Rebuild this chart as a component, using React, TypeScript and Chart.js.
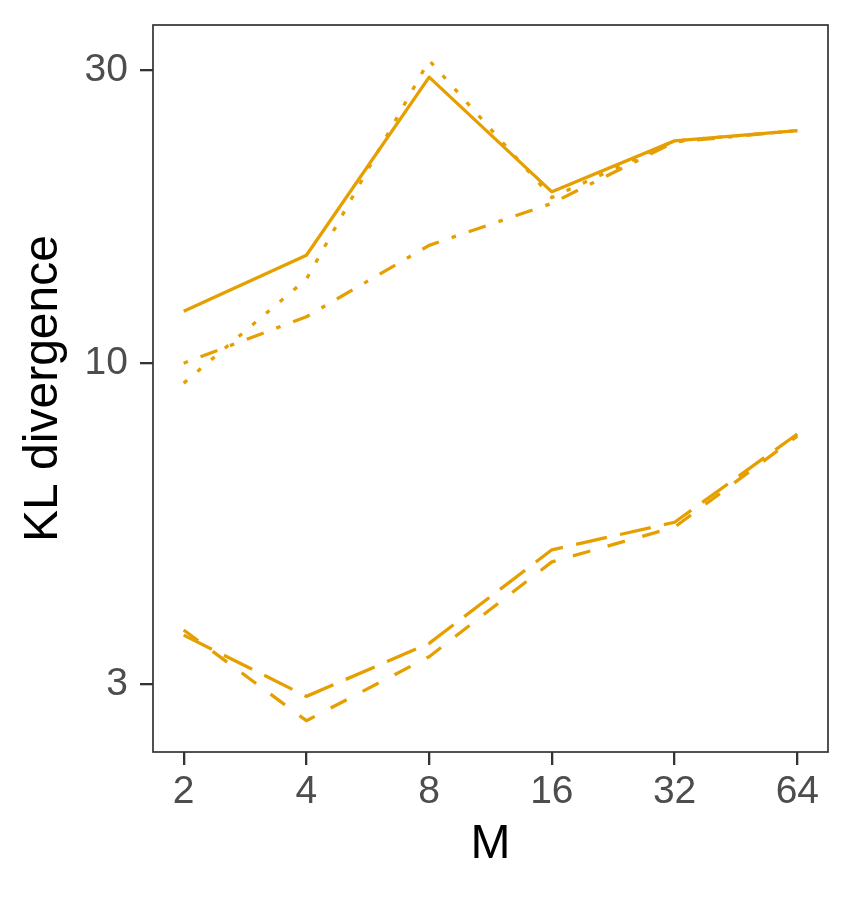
import { useEffect, useRef } from 'react';
import { Chart, ChartConfiguration, Plugin } from 'chart.js/auto';

const mValues = [2, 4, 8, 16, 32, 64];
const yTicks = [3, 10, 30];

// one series per line type
const solidSeries = [12.15, 14.98, 29.2, 19.0, 23.0, 23.9];
const dottedSeries = [9.28, 13.7, 31.1, 18.6, 23.0, 23.9];
const dotdashSeries = [10.0, 11.9, 15.55, 18.2, 22.9, 23.9];
const longdashSeries = [3.61, 2.87, 3.5, 4.97, 5.51, 7.67];
const dashedSeries = [3.68, 2.62, 3.33, 4.75, 5.41, 7.61];

const ORANGE = '#E69F00';
const FONT = '"Liberation Sans", Arial, sans-serif';

const panelBorder: Plugin<'line'> = {
  id: 'panelBorder',
  afterDraw(chart) {
    const { ctx, chartArea } = chart;
    ctx.save();
    ctx.strokeStyle = '#333333';
    ctx.lineWidth = 1.7;
    ctx.strokeRect(chartArea.left, chartArea.top, chartArea.right - chartArea.left, chartArea.bottom - chartArea.top);
    ctx.restore();
  },
};

function toPoints(values: number[]) {
  return values.map((v, i) => ({ x: mValues[i], y: v }));
}

export default function App() {
  const chartRef = useRef<HTMLCanvasElement>(null);
  const chartInstance = useRef<Chart | null>(null);

  useEffect(() => {
    document.body.style.margin = '0';
    if (!chartRef.current) return;
    if (chartInstance.current) {
      chartInstance.current.destroy();
    }
    const ctx = chartRef.current.getContext('2d');
    if (!ctx) return;

    const line = (label: string, values: number[], dash: number[]) => ({
      label,
      data: toPoints(values),
      borderColor: ORANGE,
      backgroundColor: ORANGE,
      borderWidth: 3.3,
      borderDash: dash,
      borderCapStyle: 'butt' as const,
      borderJoinStyle: 'round' as const,
      pointRadius: 0,
      tension: 0,
      fill: false,
    });

    const config: ChartConfiguration<'line'> = {
      type: 'line',
      data: {
        datasets: [
          line('solid', solidSeries, []),
          line('dotted', dottedSeries, [4.5, 13.5]),
          line('dotdash', dotdashSeries, [4.5, 13.5, 18, 13.5]),
          line('longdash', longdashSeries, [31.5, 13.5]),
          line('dashed', dashedSeries, [18, 18]),
        ],
      },
      options: {
        responsive: false,
        animation: false,
        layout: { padding: { left: 0, top: 25, right: 27, bottom: 0 } },
        plugins: {
          legend: { display: false },
          tooltip: { enabled: false },
          title: { display: false },
        },
        scales: {
          x: {
            type: 'logarithmic',
            min: Math.pow(2, 0.75),
            max: Math.pow(2, 6.25),
            afterBuildTicks: (scale) => {
              scale.ticks = mValues.map((v) => ({ value: v }));
            },
            afterFit: (scale) => {
              scale.height = 148;
              scale.paddingLeft = 0;
              scale.paddingRight = 0;
            },
            grid: {
              drawOnChartArea: false,
              drawTicks: true,
              tickLength: 13,
              color: '#333333',
              lineWidth: 2.3,
            },
            border: { display: false },
            ticks: {
              color: '#4D4D4D',
              font: { family: FONT, size: 39 },
              padding: 4,
              maxRotation: 0,
              autoSkip: false,
              callback: (value) => String(value),
            },
            title: {
              display: true,
              text: 'M',
              color: '#000000',
              font: { family: FONT, size: 48, lineHeight: 1.2 },
              padding: { top: 0, bottom: 26 },
            },
          },
          y: {
            type: 'logarithmic',
            min: 2.33,
            max: 35.5,
            afterBuildTicks: (scale) => {
              scale.ticks = yTicks.map((v) => ({ value: v }));
            },
            afterFit: (scale) => {
              scale.width = 153;
              scale.paddingTop = 0;
              scale.paddingBottom = 0;
            },
            grid: {
              drawOnChartArea: false,
              drawTicks: true,
              tickLength: 13,
              color: '#333333',
              lineWidth: 2.3,
            },
            border: { display: false },
            ticks: {
              color: '#4D4D4D',
              font: { family: FONT, size: 39 },
              padding: 12,
              autoSkip: false,
              callback: (value) => String(value),
            },
            title: {
              display: true,
              text: 'KL divergence',
              color: '#000000',
              font: { family: FONT, size: 48, lineHeight: 1.2 },
              padding: { top: 15, bottom: 0 },
            },
          },
        },
      },
      plugins: [panelBorder],
    };

    chartInstance.current = new Chart(ctx, config);

    return () => {
      if (chartInstance.current) {
        chartInstance.current.destroy();
        chartInstance.current = null;
      }
    };
  }, []);

  return (
    <div style={{ width: 855, height: 900, background: '#ffffff' }}>
      <canvas ref={chartRef} width={855} height={900}></canvas>
    </div>
  );
}
